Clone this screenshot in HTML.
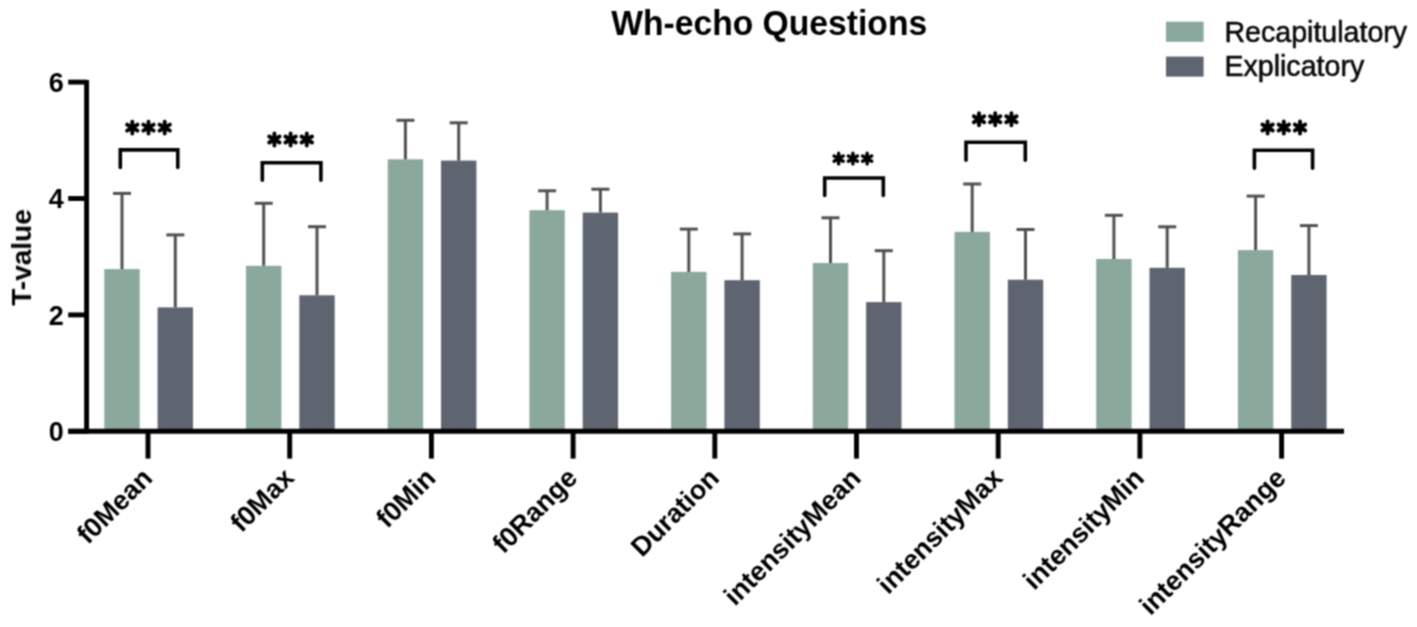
<!DOCTYPE html>
<html><head><meta charset="utf-8"><style>
html,body{margin:0;padding:0;background:#fff;}
body{width:1417px;height:627px;overflow:hidden;}
svg{display:block;}
text{font-family:"Liberation Sans",sans-serif;fill:#000;}
.b{font-weight:bold;}
.r{font-weight:normal;fill:#0a0a0a;stroke:#0a0a0a;stroke-width:0.55px;}

</style></head><body><svg width="1417" height="627" viewBox="0 0 1417 627">
<defs><filter id="bl" color-interpolation-filters="sRGB" x="-5%" y="-5%" width="110%" height="110%"><feConvolveMatrix order="3" kernelMatrix="1 2 1 2 4 2 1 2 1" divisor="16" edgeMode="duplicate"/></filter></defs>
<rect width="1417" height="627" fill="#fff"/>
<g filter="url(#bl)">
<rect x="104.3" y="269.1" width="35.4" height="162.2" fill="#8aa89b"/>
<rect x="157.6" y="307.4" width="35.4" height="123.9" fill="#5e6570"/>
<line x1="122.0" y1="269.1" x2="122.0" y2="193.4" stroke="#505050" stroke-width="3"/>
<line x1="113.0" y1="193.4" x2="131.0" y2="193.4" stroke="#505050" stroke-width="3"/>
<line x1="175.3" y1="307.4" x2="175.3" y2="234.9" stroke="#505050" stroke-width="3"/>
<line x1="166.3" y1="234.9" x2="184.3" y2="234.9" stroke="#505050" stroke-width="3"/>
<rect x="246.0" y="265.8" width="35.4" height="165.5" fill="#8aa89b"/>
<rect x="299.3" y="295.3" width="35.4" height="136.0" fill="#5e6570"/>
<line x1="263.7" y1="265.8" x2="263.7" y2="203.3" stroke="#505050" stroke-width="3"/>
<line x1="254.7" y1="203.3" x2="272.7" y2="203.3" stroke="#505050" stroke-width="3"/>
<line x1="317.0" y1="295.3" x2="317.0" y2="226.7" stroke="#505050" stroke-width="3"/>
<line x1="308.0" y1="226.7" x2="326.0" y2="226.7" stroke="#505050" stroke-width="3"/>
<rect x="387.7" y="159.3" width="35.4" height="272.0" fill="#8aa89b"/>
<rect x="441.0" y="160.6" width="35.4" height="270.7" fill="#5e6570"/>
<line x1="405.4" y1="159.3" x2="405.4" y2="120.3" stroke="#505050" stroke-width="3"/>
<line x1="396.4" y1="120.3" x2="414.4" y2="120.3" stroke="#505050" stroke-width="3"/>
<line x1="458.7" y1="160.6" x2="458.7" y2="122.8" stroke="#505050" stroke-width="3"/>
<line x1="449.7" y1="122.8" x2="467.7" y2="122.8" stroke="#505050" stroke-width="3"/>
<rect x="529.4" y="210.2" width="35.4" height="221.1" fill="#8aa89b"/>
<rect x="582.7" y="212.6" width="35.4" height="218.7" fill="#5e6570"/>
<line x1="547.1" y1="210.2" x2="547.1" y2="190.8" stroke="#505050" stroke-width="3"/>
<line x1="538.1" y1="190.8" x2="556.1" y2="190.8" stroke="#505050" stroke-width="3"/>
<line x1="600.4" y1="212.6" x2="600.4" y2="189.2" stroke="#505050" stroke-width="3"/>
<line x1="591.4" y1="189.2" x2="609.4" y2="189.2" stroke="#505050" stroke-width="3"/>
<rect x="671.1" y="271.9" width="35.4" height="159.4" fill="#8aa89b"/>
<rect x="724.4" y="280.2" width="35.4" height="151.1" fill="#5e6570"/>
<line x1="688.8" y1="271.9" x2="688.8" y2="229.1" stroke="#505050" stroke-width="3"/>
<line x1="679.8" y1="229.1" x2="697.8" y2="229.1" stroke="#505050" stroke-width="3"/>
<line x1="742.1" y1="280.2" x2="742.1" y2="233.9" stroke="#505050" stroke-width="3"/>
<line x1="733.1" y1="233.9" x2="751.1" y2="233.9" stroke="#505050" stroke-width="3"/>
<rect x="812.8" y="263.0" width="35.4" height="168.3" fill="#8aa89b"/>
<rect x="866.1" y="302.1" width="35.4" height="129.2" fill="#5e6570"/>
<line x1="830.5" y1="263.0" x2="830.5" y2="217.8" stroke="#505050" stroke-width="3"/>
<line x1="821.5" y1="217.8" x2="839.5" y2="217.8" stroke="#505050" stroke-width="3"/>
<line x1="883.8" y1="302.1" x2="883.8" y2="250.7" stroke="#505050" stroke-width="3"/>
<line x1="874.8" y1="250.7" x2="892.8" y2="250.7" stroke="#505050" stroke-width="3"/>
<rect x="954.5" y="231.9" width="35.4" height="199.4" fill="#8aa89b"/>
<rect x="1007.8" y="279.7" width="35.4" height="151.6" fill="#5e6570"/>
<line x1="972.2" y1="231.9" x2="972.2" y2="184.0" stroke="#505050" stroke-width="3"/>
<line x1="963.2" y1="184.0" x2="981.2" y2="184.0" stroke="#505050" stroke-width="3"/>
<line x1="1025.5" y1="279.7" x2="1025.5" y2="229.5" stroke="#505050" stroke-width="3"/>
<line x1="1016.5" y1="229.5" x2="1034.5" y2="229.5" stroke="#505050" stroke-width="3"/>
<rect x="1096.2" y="259.0" width="35.4" height="172.3" fill="#8aa89b"/>
<rect x="1149.5" y="267.8" width="35.4" height="163.5" fill="#5e6570"/>
<line x1="1113.9" y1="259.0" x2="1113.9" y2="215.3" stroke="#505050" stroke-width="3"/>
<line x1="1104.9" y1="215.3" x2="1122.9" y2="215.3" stroke="#505050" stroke-width="3"/>
<line x1="1167.2" y1="267.8" x2="1167.2" y2="226.8" stroke="#505050" stroke-width="3"/>
<line x1="1158.2" y1="226.8" x2="1176.2" y2="226.8" stroke="#505050" stroke-width="3"/>
<rect x="1237.9" y="250.1" width="35.4" height="181.2" fill="#8aa89b"/>
<rect x="1291.2" y="275.0" width="35.4" height="156.3" fill="#5e6570"/>
<line x1="1255.6" y1="250.1" x2="1255.6" y2="196.1" stroke="#505050" stroke-width="3"/>
<line x1="1246.6" y1="196.1" x2="1264.6" y2="196.1" stroke="#505050" stroke-width="3"/>
<line x1="1308.9" y1="275.0" x2="1308.9" y2="225.6" stroke="#505050" stroke-width="3"/>
<line x1="1299.9" y1="225.6" x2="1317.9" y2="225.6" stroke="#505050" stroke-width="3"/>
<path d="M86.6,79.9 V433.6" stroke="#000" stroke-width="4.9" fill="none"/>
<line x1="68.2" y1="431.3" x2="86.6" y2="431.3" stroke="#000" stroke-width="4.9"/>
<line x1="68.2" y1="314.9" x2="86.6" y2="314.9" stroke="#000" stroke-width="4.9"/>
<line x1="68.2" y1="198.5" x2="86.6" y2="198.5" stroke="#000" stroke-width="4.9"/>
<line x1="68.2" y1="82.1" x2="86.6" y2="82.1" stroke="#000" stroke-width="4.9"/>
<line x1="68.2" y1="431.3" x2="1344" y2="431.3" stroke="#000" stroke-width="4.9"/>
<line x1="148.0" y1="431.3" x2="148.0" y2="458.6" stroke="#000" stroke-width="4.9"/>
<line x1="289.7" y1="431.3" x2="289.7" y2="458.6" stroke="#000" stroke-width="4.9"/>
<line x1="431.4" y1="431.3" x2="431.4" y2="458.6" stroke="#000" stroke-width="4.9"/>
<line x1="573.1" y1="431.3" x2="573.1" y2="458.6" stroke="#000" stroke-width="4.9"/>
<line x1="714.8" y1="431.3" x2="714.8" y2="458.6" stroke="#000" stroke-width="4.9"/>
<line x1="856.5" y1="431.3" x2="856.5" y2="458.6" stroke="#000" stroke-width="4.9"/>
<line x1="998.2" y1="431.3" x2="998.2" y2="458.6" stroke="#000" stroke-width="4.9"/>
<line x1="1139.9" y1="431.3" x2="1139.9" y2="458.6" stroke="#000" stroke-width="4.9"/>
<line x1="1281.6" y1="431.3" x2="1281.6" y2="458.6" stroke="#000" stroke-width="4.9"/>
<text x="63.9" y="441.0" text-anchor="end" class="b" font-size="27">0</text>
<text x="63.9" y="324.6" text-anchor="end" class="b" font-size="27">2</text>
<text x="63.9" y="208.2" text-anchor="end" class="b" font-size="27">4</text>
<text x="63.9" y="91.8" text-anchor="end" class="b" font-size="27">6</text>
<path d="M120.3,167.4 V149.9 H177.8 V167.4" stroke="#000" stroke-width="3.6" stroke-linecap="round" fill="none"/>
<path d="M132.30,133.60L132.30,121.60M127.10,130.60L137.50,124.60M127.10,124.60L137.50,130.60" stroke="#000" stroke-width="3.90" stroke-linecap="round" fill="none"/><circle cx="132.30" cy="127.60" r="3.00" fill="#000"/>
<path d="M148.50,133.60L148.50,121.60M143.30,130.60L153.70,124.60M143.30,124.60L153.70,130.60" stroke="#000" stroke-width="3.90" stroke-linecap="round" fill="none"/><circle cx="148.50" cy="127.60" r="3.00" fill="#000"/>
<path d="M164.70,133.60L164.70,121.60M159.50,130.60L169.90,124.60M159.50,124.60L169.90,130.60" stroke="#000" stroke-width="3.90" stroke-linecap="round" fill="none"/><circle cx="164.70" cy="127.60" r="3.00" fill="#000"/>
<path d="M262.3,180.20000000000002 V162.7 H320.9 V180.20000000000002" stroke="#000" stroke-width="3.6" stroke-linecap="round" fill="none"/>
<path d="M274.40,145.50L274.40,133.50M269.20,142.50L279.60,136.50M269.20,136.50L279.60,142.50" stroke="#000" stroke-width="3.90" stroke-linecap="round" fill="none"/><circle cx="274.40" cy="139.50" r="3.00" fill="#000"/>
<path d="M290.60,145.50L290.60,133.50M285.40,142.50L295.80,136.50M285.40,136.50L295.80,142.50" stroke="#000" stroke-width="3.90" stroke-linecap="round" fill="none"/><circle cx="290.60" cy="139.50" r="3.00" fill="#000"/>
<path d="M306.80,145.50L306.80,133.50M301.60,142.50L312.00,136.50M301.60,136.50L312.00,142.50" stroke="#000" stroke-width="3.90" stroke-linecap="round" fill="none"/><circle cx="306.80" cy="139.50" r="3.00" fill="#000"/>
<path d="M824.7,195.4 V178.0 H883.3 V195.4" stroke="#000" stroke-width="3.6" stroke-linecap="round" fill="none"/>
<path d="M838.64,163.88L838.64,153.32M834.07,161.24L843.22,155.96M834.07,155.96L843.22,161.24" stroke="#000" stroke-width="3.43" stroke-linecap="round" fill="none"/><circle cx="838.64" cy="158.60" r="2.64" fill="#000"/>
<path d="M852.90,163.88L852.90,153.32M848.33,161.24L857.47,155.96M848.33,155.96L857.47,161.24" stroke="#000" stroke-width="3.43" stroke-linecap="round" fill="none"/><circle cx="852.90" cy="158.60" r="2.64" fill="#000"/>
<path d="M867.16,163.88L867.16,153.32M862.58,161.24L871.73,155.96M862.58,155.96L871.73,161.24" stroke="#000" stroke-width="3.43" stroke-linecap="round" fill="none"/><circle cx="867.16" cy="158.60" r="2.64" fill="#000"/>
<path d="M966.0,160.20000000000002 V142.3 H1025.3 V160.20000000000002" stroke="#000" stroke-width="3.6" stroke-linecap="round" fill="none"/>
<path d="M979.00,125.30L979.00,113.30M973.80,122.30L984.20,116.30M973.80,116.30L984.20,122.30" stroke="#000" stroke-width="3.90" stroke-linecap="round" fill="none"/><circle cx="979.00" cy="119.30" r="3.00" fill="#000"/>
<path d="M995.20,125.30L995.20,113.30M990.00,122.30L1000.40,116.30M990.00,116.30L1000.40,122.30" stroke="#000" stroke-width="3.90" stroke-linecap="round" fill="none"/><circle cx="995.20" cy="119.30" r="3.00" fill="#000"/>
<path d="M1011.40,125.30L1011.40,113.30M1006.20,122.30L1016.60,116.30M1006.20,116.30L1016.60,122.30" stroke="#000" stroke-width="3.90" stroke-linecap="round" fill="none"/><circle cx="1011.40" cy="119.30" r="3.00" fill="#000"/>
<path d="M1254.4,168.20000000000002 V150.2 H1312.6 V168.20000000000002" stroke="#000" stroke-width="3.6" stroke-linecap="round" fill="none"/>
<path d="M1267.60,133.50L1267.60,121.50M1262.40,130.50L1272.80,124.50M1262.40,124.50L1272.80,130.50" stroke="#000" stroke-width="3.90" stroke-linecap="round" fill="none"/><circle cx="1267.60" cy="127.50" r="3.00" fill="#000"/>
<path d="M1283.80,133.50L1283.80,121.50M1278.60,130.50L1289.00,124.50M1278.60,124.50L1289.00,130.50" stroke="#000" stroke-width="3.90" stroke-linecap="round" fill="none"/><circle cx="1283.80" cy="127.50" r="3.00" fill="#000"/>
<path d="M1300.00,133.50L1300.00,121.50M1294.80,130.50L1305.20,124.50M1294.80,124.50L1305.20,130.50" stroke="#000" stroke-width="3.90" stroke-linecap="round" fill="none"/><circle cx="1300.00" cy="127.50" r="3.00" fill="#000"/>
<text transform="translate(153.8,479.5) rotate(-45)" text-anchor="end" class="b" font-size="27">f0Mean</text>
<text transform="translate(295.5,479.5) rotate(-45)" text-anchor="end" class="b" font-size="27">f0Max</text>
<text transform="translate(437.2,479.5) rotate(-45)" text-anchor="end" class="b" font-size="27">f0Min</text>
<text transform="translate(578.9,479.5) rotate(-45)" text-anchor="end" class="b" font-size="27">f0Range</text>
<text transform="translate(720.6,479.5) rotate(-45)" text-anchor="end" class="b" font-size="27">Duration</text>
<text transform="translate(862.3,479.5) rotate(-45)" text-anchor="end" class="b" font-size="27">intensityMean</text>
<text transform="translate(1004.0,479.5) rotate(-45)" text-anchor="end" class="b" font-size="27">intensityMax</text>
<text transform="translate(1145.7,479.5) rotate(-45)" text-anchor="end" class="b" font-size="27">intensityMin</text>
<text transform="translate(1287.4,479.5) rotate(-45)" text-anchor="end" class="b" font-size="27">intensityRange</text>
<text transform="translate(31,257.5) rotate(-90)" text-anchor="middle" class="b" font-size="28">T-value</text>
<text x="769.2" y="34.5" text-anchor="middle" class="b" font-size="34.5" textLength="316" lengthAdjust="spacingAndGlyphs">Wh-echo Questions</text>
<rect x="1166" y="21.7" width="37.6" height="20.1" fill="#8aa89b"/>
<rect x="1166" y="56.6" width="37.6" height="20" fill="#5e6570"/>
<text x="1224.4" y="41.9" font-size="28.6" class="r">Recapitulatory</text>
<text x="1224.4" y="76.1" font-size="28.6" class="r">Explicatory</text>
</g>
</svg>
</body></html>
